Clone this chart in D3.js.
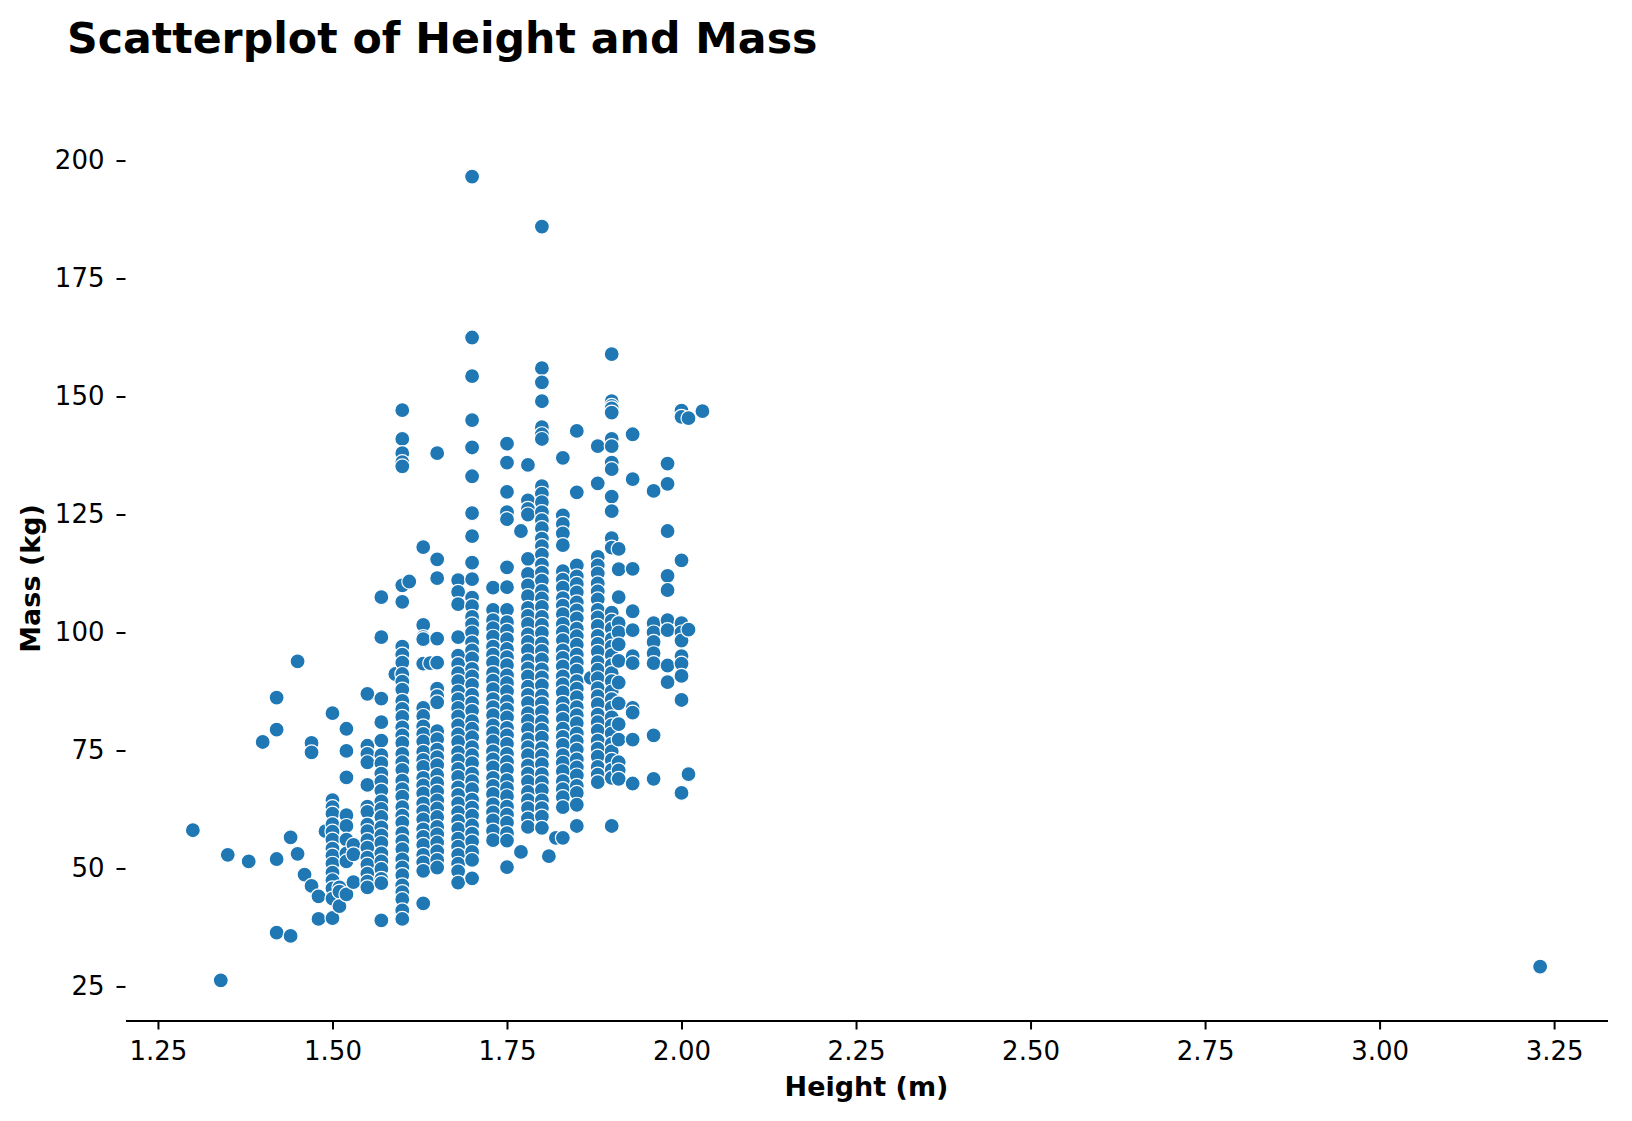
<!DOCTYPE html>
<html>
<head>
<meta charset="utf-8">
<script src="https://cdn.jsdelivr.net/npm/d3@7"></script>
<style>
  body { margin: 0; background: #ffffff; }
  svg { display: block; font-family: "DejaVu Sans", sans-serif; }
</style>
</head>
<body>
<svg id="chart"></svg>
<script>
// Heights (m) that carry points, one entry per visible column
const heights = [
  1.30, 1.34, 1.35, 1.38, 1.40, 1.42, 1.44, 1.45, 1.46, 1.47, 1.48, 1.49,
  1.50, 1.51, 1.52, 1.53, 1.55, 1.57, 1.59, 1.60, 1.61, 1.63, 1.64, 1.65,
  1.68, 1.70, 1.73, 1.75, 1.77, 1.78, 1.80, 1.81, 1.82, 1.83, 1.85, 1.87,
  1.88, 1.90, 1.91, 1.93, 1.96, 1.98, 2.00, 2.01, 2.03, 3.23
];

// Masses (kg), top to bottom
const massByHeight = [
  [58.1],
  [26.3],
  [52.9],
  [51.5],
  [76.8],
  [86.2, 79.4, 52.0, 36.4],
  [56.6, 35.7],
  [93.9, 53.1],
  [48.7],
  [76.6, 74.6, 46.3],
  [44.1, 39.3],
  [57.9],
  [82.9, 64.5, 63.0, 61.6, 59.4, 57.8, 56.1, 54.2, 52.7, 51.0, 49.1, 47.5, 45.8, 43.6, 39.5],
  [46.0, 45.1, 42.0],
  [79.6, 74.9, 69.3, 61.3, 59.0, 56.1, 53.2, 51.5, 44.5],
  [55.0, 53.0, 47.1],
  [87.0, 76.0, 74.3, 72.5, 67.7, 63.1, 62.0, 59.3, 57.9, 56.0, 54.4, 52.3, 50.8, 48.9, 47.2, 46.0],
  [107.5, 99.0, 86.0, 81.0, 77.1, 74.0, 72.3, 70.1, 68.4, 66.5, 64.2, 62.6, 60.9, 58.7, 57.0, 55.4, 53.2, 51.5, 49.9, 47.8, 46.9, 39.0],
  [91.2],
  [147.1, 141.0, 138.0, 136.1, 135.2, 110.0, 106.5, 97.0, 95.3, 93.6, 91.2, 89.6, 87.9, 85.5, 83.8, 82.1, 79.9, 78.2, 76.6, 74.3, 72.5, 70.9, 68.6, 66.8, 65.2, 63.0, 61.2, 59.7, 57.5, 55.8, 54.1, 51.9, 50.2, 48.6, 46.4, 45.0, 43.5, 41.1, 39.3],
  [110.8],
  [118.1, 101.6, 99.0, 98.6, 93.4, 84.0, 82.3, 80.1, 78.5, 76.9, 74.7, 73.0, 71.5, 69.2, 67.6, 65.9, 63.8, 62.1, 60.4, 58.3, 56.7, 55.0, 52.9, 51.3, 49.5, 42.6],
  [93.5],
  [138.0, 115.5, 111.5, 98.7, 93.6, 88.1, 86.5, 85.2, 79.1, 77.4, 75.2, 73.6, 71.9, 69.8, 68.1, 66.3, 64.4, 62.7, 60.9, 58.8, 57.2, 55.5, 53.6, 51.8, 50.2],
  [111.1, 108.6, 106.0, 99.0, 95.1, 93.3, 91.4, 89.7, 87.5, 85.9, 84.0, 82.2, 80.3, 78.4, 76.8, 74.6, 72.9, 71.1, 69.4, 67.2, 65.6, 63.8, 61.9, 60.1, 58.4, 56.3, 54.6, 52.9, 51.0, 49.4, 47.0],
  [196.6, 162.5, 154.3, 145.0, 139.2, 133.1, 125.3, 120.4, 114.8, 111.3, 107.4, 105.6, 103.3, 101.7, 100.0, 97.9, 96.2, 94.5, 92.3, 90.7, 88.9, 86.8, 85.1, 83.4, 81.2, 79.6, 77.8, 75.7, 74.0, 72.3, 70.1, 68.5, 66.8, 64.6, 62.9, 61.2, 59.1, 57.4, 55.7, 53.5, 51.8, 47.9],
  [109.5, 104.8, 102.6, 100.9, 99.1, 97.0, 95.3, 93.6, 91.4, 89.8, 88.0, 85.9, 84.2, 82.5, 80.3, 78.7, 76.9, 74.8, 73.1, 71.4, 69.2, 67.5, 65.8, 63.6, 61.9, 60.2, 58.0, 56.0],
  [140.0, 136.0, 129.8, 125.5, 124.0, 113.8, 109.6, 104.8, 102.2, 100.4, 98.6, 96.5, 94.8, 93.1, 90.9, 89.3, 87.5, 85.4, 83.7, 82.0, 79.8, 78.2, 76.4, 74.3, 72.6, 70.9, 68.7, 67.0, 65.3, 63.1, 61.4, 59.7, 57.5, 55.9, 50.3],
  [121.5, 53.5],
  [135.5, 128.0, 126.2, 125.0, 115.6, 112.4, 110.0, 107.7, 105.2, 103.5, 101.8, 99.6, 98.0, 96.2, 94.1, 92.4, 90.7, 88.5, 86.8, 85.1, 82.9, 81.3, 79.5, 77.4, 75.7, 74.0, 71.8, 70.1, 68.4, 66.2, 64.5, 62.8, 60.6, 58.8],
  [186.0, 156.0, 153.0, 149.0, 143.5, 142.0, 141.0, 131.0, 129.4, 127.6, 125.5, 123.8, 122.1, 119.9, 118.3, 116.5, 114.4, 112.7, 111.0, 108.8, 107.2, 105.4, 103.3, 101.6, 99.9, 97.7, 96.1, 94.3, 92.2, 90.5, 88.8, 86.6, 85.0, 83.2, 81.1, 79.4, 77.7, 75.5, 73.9, 72.1, 70.0, 68.3, 66.6, 64.4, 62.8, 61.0, 58.6],
  [52.6],
  [56.5],
  [137.0, 124.8, 123.0, 121.0, 118.5, 113.0, 111.2, 109.5, 107.3, 105.7, 103.9, 101.8, 100.1, 98.4, 96.2, 94.6, 92.8, 90.7, 89.0, 87.3, 85.1, 83.5, 81.7, 79.6, 77.9, 76.2, 74.0, 72.4, 70.6, 68.5, 66.8, 65.1, 63.0, 56.5],
  [142.7, 129.7, 114.2, 111.9, 110.3, 108.5, 106.4, 104.7, 103.0, 100.8, 99.2, 97.4, 95.3, 93.6, 91.9, 89.7, 88.1, 86.3, 84.2, 82.5, 80.8, 78.6, 77.0, 75.2, 73.1, 71.4, 69.7, 67.5, 66.0, 63.5, 59.0],
  [90.4],
  [139.5, 131.6, 116.0, 114.2, 112.5, 110.4, 108.7, 107.0, 104.8, 103.2, 101.4, 99.3, 97.6, 95.9, 93.7, 92.1, 90.3, 88.2, 86.5, 84.8, 82.6, 81.0, 79.2, 77.1, 75.4, 73.7, 71.5, 69.9, 68.3],
  [159.0, 149.0, 148.0, 147.5, 146.6, 141.0, 139.5, 136.0, 134.6, 128.8, 125.7, 120.0, 118.0, 104.2, 102.5, 100.8, 98.6, 97.0, 95.2, 93.1, 91.4, 89.7, 87.5, 85.9, 84.1, 82.0, 80.3, 78.6, 76.4, 74.8, 73.0, 70.9, 69.2, 59.0],
  [117.7, 113.4, 107.5, 102.0, 100.0, 97.5, 94.0, 89.4, 85.0, 80.6, 77.3, 72.5, 70.8, 69.0],
  [142.0, 132.5, 113.5, 104.5, 100.5, 95.0, 93.5, 84.0, 83.0, 77.3, 68.0],
  [130.0, 102.0, 100.0, 98.0, 95.6, 93.5, 78.2, 69.0],
  [135.8, 131.5, 121.5, 112.0, 109.0, 102.6, 100.5, 93.0, 89.5],
  [147.0, 145.7, 115.3, 102.0, 100.0, 98.3, 95.0, 93.4, 90.8, 85.7, 66.0],
  [145.4, 100.6, 70.0],
  [146.9],
  [29.2]
];

const xTicks = [1.25, 1.50, 1.75, 2.00, 2.25, 2.50, 2.75, 3.00, 3.25];
const yTicks = [25, 50, 75, 100, 125, 150, 175, 200];

const points = heights.flatMap((h, i) => massByHeight[i].map(m => ({ height: h, mass: m })));

// Figure size and axes box
const width = 1632;
const height = 1121;
const margin = { top: 136.4, right: 24.5, bottom: 100.5, left: 125.5 };
const innerW = width - margin.left - margin.right;
const innerH = height - margin.top - margin.bottom;

const svg = d3.select('#chart')
  .attr('width', width)
  .attr('height', height);

// 5% padding on each side, like matplotlib autoscaling
const xExt = d3.extent(points, d => d.height);
const yExt = d3.extent(points, d => d.mass);
const xPad = (xExt[1] - xExt[0]) * 0.05;
const yPad = (yExt[1] - yExt[0]) * 0.05;

const xScale = d3.scaleLinear()
  .domain([xExt[0] - xPad, xExt[1] + xPad])
  .range([0, innerW]);

const yScale = d3.scaleLinear()
  .domain([yExt[0] - yPad, yExt[1] + yPad])
  .range([innerH, 0]);

const g = svg.append('g')
  .attr('transform', `translate(${margin.left},${margin.top})`);

// Points
g.append('g')
  .selectAll('circle')
  .data(points)
  .enter()
  .append('circle')
  .attr('cx', d => xScale(d.height))
  .attr('cy', d => yScale(d.mass))
  .attr('r', 7.5)
  .style('fill', '#1f77b4')
  .style('stroke', '#ffffff')
  .style('stroke-width', 1.2);

// Bottom axis, keeps its spine
const xAxis = g.append('g')
  .attr('transform', `translate(0,${innerH})`)
  .call(d3.axisBottom(xScale)
    .tickValues(xTicks)
    .tickFormat(d3.format('.2f'))
    .tickSize(9)
    .tickPadding(12)
    .tickSizeOuter(0));

xAxis.select('.domain').attr('stroke', '#000').attr('stroke-width', 2);
xAxis.selectAll('.tick line').attr('stroke', '#000').attr('stroke-width', 2);
xAxis.selectAll('.tick text')
  .attr('fill', '#000')
  .style('font-size', '26px')
  .style('font-family', '"DejaVu Sans", sans-serif');

// Left axis, spine removed
const yAxis = g.append('g')
  .call(d3.axisLeft(yScale)
    .tickValues(yTicks)
    .tickSize(9)
    .tickPadding(12));

yAxis.select('.domain').remove();
yAxis.selectAll('.tick line').attr('stroke', '#000').attr('stroke-width', 2);
yAxis.selectAll('.tick text')
  .attr('fill', '#000')
  .style('font-size', '26px')
  .style('font-family', '"DejaVu Sans", sans-serif');

// Axis labels
svg.append('text')
  .attr('x', margin.left + innerW / 2)
  .attr('y', 1096)
  .attr('text-anchor', 'middle')
  .style('font-size', '27px')
  .style('font-weight', 'bold')
  .text('Height (m)');

svg.append('text')
  .attr('transform', `translate(40,${margin.top + innerH / 2}) rotate(-90)`)
  .attr('text-anchor', 'middle')
  .style('font-size', '27px')
  .style('font-weight', 'bold')
  .text('Mass (kg)');

// Title
svg.append('text')
  .attr('x', 67)
  .attr('y', 53)
  .style('font-size', '42.7px')
  .style('font-weight', 'bold')
  .text('Scatterplot of Height and Mass');
</script>
</body>
</html>
